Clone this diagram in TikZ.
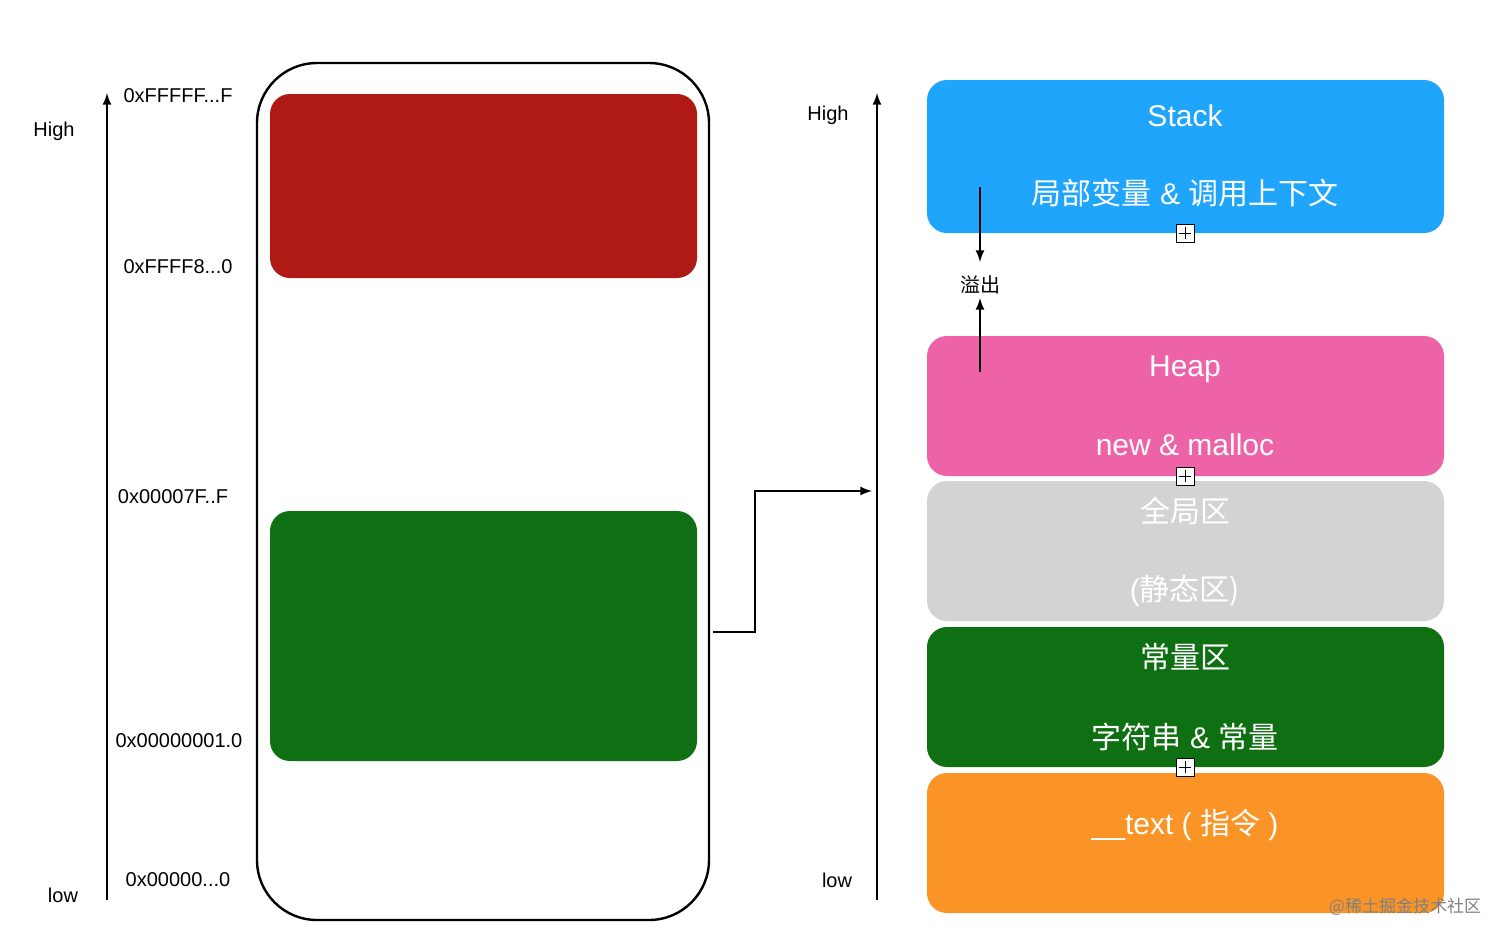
\documentclass[tikz,border=0pt]{standalone}
\usepackage{fontspec}
\setmainfont{Liberation Sans}
\newfontfamily\cjk{Noto Sans CJK SC}
\begin{document}
\begin{tikzpicture}[x=0.5pt,y=-0.5pt,
  lbl/.style={font=\fontsize{10}{12}\selectfont,text=black},
  wt/.style={text=white,font=\fontsize{15}{18}\selectfont},
  plus/.style={draw,fill=white,minimum size=9pt,inner sep=0pt,line width=0.5pt,
    path picture={\draw[line width=0.5pt] ([yshift=-1.5pt]path picture bounding box.north) -- ([yshift=1.5pt]path picture bounding box.south) ([xshift=1.5pt]path picture bounding box.west) -- ([xshift=-1.5pt]path picture bounding box.east);}},
  ar/.style={-latex,line width=1pt}]
\definecolor{cred}{HTML}{B01A14}
\definecolor{cgreen}{HTML}{0E7012}
\definecolor{cblue}{HTML}{1FA5FC}
\definecolor{cpink}{HTML}{EE63A8}
\definecolor{cgray}{HTML}{D3D3D3}
\definecolor{corange}{HTML}{FB9426}
\useasboundingbox (0,0) rectangle (1512,944);
% left axis
\coordinate (la0) at (107,900); \coordinate (la1) at (107,93);
\draw[ar] (la0) -- (la1);
\node[lbl] (lh) at (54,131) {High};
\node[lbl] (ll) at (63,895) {low};
\node[lbl] (a1) at (178,96) {0xFFFFF...F};
\node[lbl] (a2) at (178,267) {0xFFFF8...0};
\node[lbl] (a3) at (173,497) {0x00007F..F};
\node[lbl] (a4) at (179,741) {0x00000001.0};
\node[lbl] (a5) at (178,880) {0x00000...0};
% phone
\draw[line width=1.2pt,rounded corners=30pt] (257,63) rectangle (709,920);
\fill[cred,rounded corners=10pt] (270,94) rectangle (697,278);
\fill[cgreen,rounded corners=10pt] (270,511) rectangle (697,761);
% connector
\coordinate (c0) at (713,632); \coordinate (c1) at (872,491);
\draw[ar] (c0) -- (755,632) -- (755,491) -- (c1);
% right axis
\coordinate (ra0) at (877,900); \coordinate (ra1) at (877,93);
\draw[ar] (ra0) -- (ra1);
\node[lbl] (rh) at (828,115) {High};
\node[lbl] (rl) at (837,880) {low};
% segments
\fill[cblue,rounded corners=10pt] (927,80) rectangle (1444,233);
\fill[cpink,rounded corners=10pt] (927,336) rectangle (1444,476);
\fill[cgray,rounded corners=10pt] (927,481) rectangle (1444,621);
\fill[cgreen,rounded corners=10pt] (927,627) rectangle (1444,767);
\fill[corange,rounded corners=10pt] (927,773) rectangle (1444,913);
\node[wt] (s1) at (1185,116) {Stack};
\node[wt] (s2) at (1185,193) {{\cjk 局部变量} \& {\cjk 调用上下文}};
\node[wt] (h1) at (1185,369) {Heap};
\node[wt] (h2) at (1185,445) {new \& malloc};
\node[wt] (g1) at (1185,511) {\cjk 全局区};
\node[wt] (g2) at (1185,591) {(\cjk 静态区)};
\node[wt] (k1) at (1185,657) {\cjk 常量区};
\node[wt] (k2) at (1185,737) {{\cjk 字符串} \& {\cjk 常量}};
\node[wt] (t1) at (1185,825) {\_\_text ( {\cjk 指令} )};
\node[plus] (p1) at (1185,233) {};
\node[plus] (p2) at (1185,476) {};
\node[plus] (p3) at (1185,767) {};
% overflow
\node[lbl] (ov) at (980,285) {\cjk 溢出};
\coordinate (o0) at (980,187); \coordinate (o1) at (980,372);
\draw[ar] (o0) -- (980,262);
\draw[ar] (o1) -- (980,298);
\node[text=gray,font=\fontsize{8.5}{10}\selectfont\cjk] (wm) at (1405,907) {@稀土掘金技术社区};
\end{tikzpicture}
\end{document}
